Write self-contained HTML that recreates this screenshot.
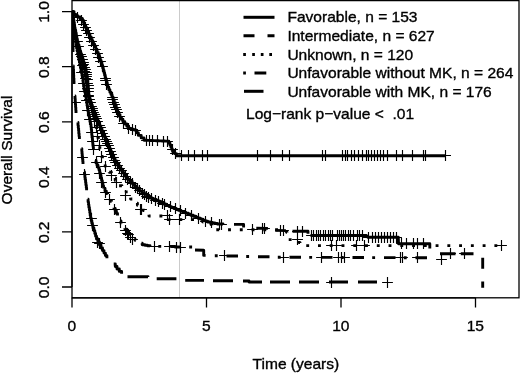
<!DOCTYPE html>
<html lang="en">
<head>
<meta charset="utf-8">
<title>Overall Survival</title>
<style>
html,body{margin:0;padding:0;background:#fff;}
body{width:520px;height:373px;overflow:hidden;}
svg{display:block;}
</style>
</head>
<body>
<svg width="520" height="373" viewBox="0 0 520 373">
<rect width="520" height="373" fill="#fff"/>
<line x1="179.5" y1="0.6" x2="179.5" y2="297.8" stroke="#cbcbcb" stroke-width="1"/>
<clipPath id="pc"><rect x="72.0" y="0.6" width="447.0" height="297.2"/></clipPath>
<g fill="none" stroke="#000" stroke-width="2.9" stroke-linejoin="round" clip-path="url(#pc)">
<path d="M72.0 11.6 L74.0 11.6 L74.0 14.5 L75.8 14.5 L75.8 15.8 L77.6 15.8 L77.6 17.0 L80.0 17.0 L80.0 18.8 L82.5 18.8 L82.5 20.5 L83.5 20.5 L83.5 22.8 L84.4 22.8 L84.4 25.2 L85.4 25.2 L85.4 27.5 L86.5 27.5 L86.5 29.9 L87.7 29.9 L87.7 32.2 L88.8 32.2 L88.8 34.6 L89.9 34.6 L89.9 37.0 L91.1 37.0 L91.1 39.5 L92.2 39.5 L92.2 41.9 L93.4 41.9 L93.4 44.3 L94.6 44.3 L94.6 46.8 L95.8 46.8 L95.8 49.6 L97.0 49.6 L97.0 52.4 L98.2 52.4 L98.2 55.2 L99.4 55.2 L99.4 58.0 L100.2 58.0 L100.2 60.5 L101.1 60.5 L101.1 63.0 L101.9 63.0 L101.9 65.5 L102.7 65.5 L102.7 68.0 L103.3 68.0 L103.3 70.4 L104.0 70.4 L104.0 72.8 L104.6 72.8 L104.6 75.3 L105.2 75.3 L105.2 77.7 L105.8 77.7 L105.8 80.1 L106.5 80.1 L106.5 82.5 L107.2 82.5 L107.2 84.9 L107.8 84.9 L107.8 87.3 L108.8 87.3 L108.8 89.7 L109.9 89.7 L109.9 92.2 L111.0 92.2 L111.0 94.6 L112.0 94.6 L112.0 97.0 L113.0 97.0 L113.0 99.8 L114.1 99.8 L114.1 102.6 L115.2 102.6 L115.2 105.4 L116.2 105.4 L116.2 108.2 L117.0 108.2 L117.0 110.4 L117.7 110.4 L117.7 112.5 L118.5 112.5 L118.5 114.7 L120.0 114.7 L120.0 117.1 L121.4 117.1 L121.4 119.4 L122.9 119.4 L122.9 121.8 L124.8 121.8 L124.8 124.0 L126.8 124.0 L126.8 126.3 L128.7 126.3 L128.7 128.5 L131.0 128.5 L131.0 129.2 L133.2 129.2 L133.2 129.8 L135.5 129.8 L135.5 130.5 L136.9 130.5 L136.9 132.9 L138.4 132.9 L138.4 135.4 L141.2 135.4 L141.2 137.9 L144.0 137.9 L144.0 140.3 L146.9 140.3 L146.9 140.4 L149.9 140.4 L149.9 140.5 L152.8 140.5 L152.8 140.6 L155.8 140.6 L155.8 140.8 L158.8 140.8 L158.8 140.9 L161.7 140.9 L161.7 141.0 L164.7 141.0 L164.7 141.1 L167.6 141.1 L167.6 141.2 L168.8 141.2 L168.8 143.2 L170.0 143.2 L170.0 145.2 L170.9 145.2 L170.9 147.3 L171.7 147.3 L171.7 149.4 L172.6 149.4 L172.6 151.5 L174.5 151.5 L174.5 153.6 L176.4 153.6 L176.4 155.7 L446.0 155.7 L446.0 155.7"/>
<path d="M72.0 11.6 L72.5 11.6 L72.5 14.4 L73.0 14.4 L73.0 17.2 L73.5 17.2 L73.5 20.0 L73.9 20.0 L73.9 22.5 L74.2 22.5 L74.2 25.0 L74.6 25.0 L74.6 27.5 L75.0 27.5 L75.0 30.0 L75.6 30.0 L75.6 33.0 L76.2 33.0 L76.2 36.0 L76.7 36.0 L76.7 39.0 L77.3 39.0 L77.3 42.0 L78.1 42.0 L78.1 45.0 L79.0 45.0 L79.0 48.0 L79.8 48.0 L79.8 51.0 L80.6 51.0 L80.6 53.7 L81.5 53.7 L81.5 56.3 L82.3 56.3 L82.3 59.0 L83.1 59.0 L83.1 61.5 L83.9 61.5 L83.9 64.0 L84.7 64.0 L84.7 66.5 L85.5 66.5 L85.5 69.0 L86.1 69.0 L86.1 72.0 L86.6 72.0 L86.6 75.0 L87.2 75.0 L87.2 78.0 L87.5 78.0 L87.5 80.5 L87.8 80.5 L87.8 83.0 L88.0 83.0 L88.0 85.5 L88.3 85.5 L88.3 88.0 L88.5 88.0 L88.5 91.0 L88.8 91.0 L88.8 94.0 L89.0 94.0 L89.0 97.0 L89.8 97.0 L89.8 99.8 L90.7 99.8 L90.7 102.5 L91.5 102.5 L91.5 105.2 L92.3 105.2 L92.3 108.0 L93.4 108.0 L93.4 111.0 L94.4 111.0 L94.4 114.0 L95.5 114.0 L95.5 117.0 L97.0 117.0 L97.0 120.0 L98.0 120.0 L98.0 122.3 L99.0 122.3 L99.0 124.7 L99.9 124.7 L99.9 127.0 L100.9 127.0 L100.9 129.3 L102.0 129.3 L102.0 131.7 L103.1 131.7 L103.1 134.2 L104.1 134.2 L104.1 136.6 L105.2 136.6 L105.2 139.0 L106.2 139.0 L106.2 141.4 L107.2 141.4 L107.2 143.8 L108.3 143.8 L108.3 146.2 L109.3 146.2 L109.3 148.6 L110.3 148.6 L110.3 151.0 L111.3 151.0 L111.3 153.4 L112.4 153.4 L112.4 155.9 L113.4 155.9 L113.4 158.3 L114.9 158.3 L114.9 160.7 L116.3 160.7 L116.3 163.1 L117.8 163.1 L117.8 165.5 L119.2 165.5 L119.2 167.9 L120.9 167.9 L120.9 170.3 L122.6 170.3 L122.6 172.8 L124.3 172.8 L124.3 175.2 L126.0 175.2 L126.0 177.6 L127.8 177.6 L127.8 179.4 L129.7 179.4 L129.7 181.2 L132.1 181.2 L132.1 183.6 L134.5 183.6 L134.5 186.1 L136.9 186.1 L136.9 188.5 L139.3 188.5 L139.3 190.9 L141.9 190.9 L141.9 192.7 L144.5 192.7 L144.5 194.4 L147.1 194.4 L147.1 196.2 L149.7 196.2 L149.7 198.0 L152.1 198.0 L152.1 198.9 L154.5 198.9 L154.5 199.9 L156.9 199.9 L156.9 200.9 L159.3 200.9 L159.3 201.8 L161.7 201.8 L161.7 203.0 L164.2 203.0 L164.2 204.2 L166.6 204.2 L166.6 205.4 L169.0 205.4 L169.0 206.6 L171.4 206.6 L171.4 207.6 L173.8 207.6 L173.8 208.5 L176.2 208.5 L176.2 209.4 L178.6 209.4 L178.6 210.4 L181.0 210.4 L181.0 211.4 L183.4 211.4 L183.4 212.4 L185.9 212.4 L185.9 213.3 L188.3 213.3 L188.3 214.3 L190.7 214.3 L190.7 215.3 L193.2 215.3 L193.2 216.2 L195.6 216.2 L195.6 217.2 L198.0 217.2 L198.0 218.2 L200.4 218.2 L200.4 219.1 L202.8 219.1 L202.8 220.1 L205.2 220.1 L205.2 221.1 L207.6 221.1 L207.6 222.0 L210.0 222.0 L210.0 222.5 L212.4 222.5 L212.4 223.0 L214.8 223.0 L214.8 223.5 L217.2 223.5 L217.2 224.0 L223.0 224.0 L223.0 224.2"/>
<path d="M234.0 224.4 L243.6 224.4 L243.6 227.5"/>
<path d="M256.3 228.2 L267.9 228.4"/>
<path d="M275.3 230.4 L285.9 230.6"/>
<path d="M292.5 231.2 L308.0 231.2 L308.0 233.7"/>
<path d="M310.5 235.5 L364.6 235.5 L366.5 235.5 L367.7 237.2 L398.3 237.2 L398.5 243.8 L429.8 243.8 L429.8 248.5"/>
<path d="M72.0 11.6 L72.4 11.6 L72.4 14.4 L72.9 14.4 L72.9 17.2 L73.3 17.2 L73.3 20.0 L73.6 20.0 L73.6 22.5 L73.9 22.5 L73.9 25.0 L74.3 25.0 L74.3 27.5 L74.6 27.5 L74.6 30.0 L75.0 30.0 L75.0 32.5 L75.4 32.5 L75.4 35.0 L75.9 35.0 L75.9 37.5 L76.3 37.5 L76.3 40.0 L76.9 40.0 L76.9 43.0 L77.5 43.0 L77.5 46.0 L78.2 46.0 L78.2 49.0 L78.8 49.0 L78.8 52.0 L79.5 52.0 L79.5 54.3 L80.3 54.3 L80.3 56.7 L81.0 56.7 L81.0 59.0 L81.8 59.0 L81.8 61.5 L82.5 61.5 L82.5 64.0 L83.2 64.0 L83.2 66.5 L84.0 66.5 L84.0 69.0 L84.6 69.0 L84.6 72.0 L85.1 72.0 L85.1 75.0 L85.7 75.0 L85.7 78.0 L86.0 78.0 L86.0 80.5 L86.3 80.5 L86.3 83.0 L86.7 83.0 L86.7 85.5 L87.0 85.5 L87.0 88.0 L87.3 88.0 L87.3 90.3 L87.7 90.3 L87.7 92.7 L88.0 92.7 L88.0 95.0 L88.7 95.0 L88.7 97.6 L89.4 97.6 L89.4 100.2 L90.1 100.2 L90.1 102.8 L90.8 102.8 L90.8 105.4 L91.5 105.4 L91.5 108.0 L92.2 108.0 L92.2 110.8 L92.9 110.8 L92.9 113.6 L93.6 113.6 L93.6 116.4 L94.3 116.4 L94.3 119.2 L95.0 119.2 L95.0 122.0"/>
<path d="M95.0 122.0 L95.5 122.0 L95.5 124.8 L96.0 124.8 L96.0 127.5 L96.5 127.5 L96.5 130.2 L97.0 130.2 L97.0 133.0 L97.5 133.0 L97.5 135.5 L98.0 135.5 L98.0 138.0 L98.5 138.0 L98.5 140.5 L99.0 140.5 L99.0 143.0 L99.4 143.0 L99.4 145.9 L99.8 145.9 L99.8 148.8 L100.3 148.8 L100.3 151.6 L100.7 151.6 L100.7 154.5 L101.5 154.5 L101.5 156.5 L102.4 156.5 L102.4 158.9 L103.3 158.9 L103.3 161.4 L104.3 161.4 L104.3 163.9 L105.2 163.9 L105.2 166.3 L107.2 166.3 L107.2 169.2 L109.2 169.2 L109.2 172.2 L111.3 172.2 L111.3 175.1 L113.3 175.1 L113.3 178.0 L115.2 178.0 L115.2 180.6 L117.1 180.6 L117.1 183.2 L119.0 183.2 L119.0 185.8 L121.9 185.8 L121.9 187.7 L124.8 187.7 L124.8 189.5 L126.2 189.5 L126.2 191.9 L127.7 191.9 L127.7 194.2 L129.2 194.2 L129.2 196.6 L130.6 196.6 L130.6 199.0 L132.9 199.0 L132.9 201.1 L135.1 201.1 L135.1 203.1 L137.4 203.1 L137.4 205.2 L140.3 205.2 L140.3 207.9 L143.2 207.9 L143.2 210.6 L146.1 210.6 L146.1 213.3 L149.0 213.3 L149.0 216.0 L168.0 216.0 L168.0 216.0 L168.3 216.0 L168.3 219.6 L196.0 219.6 L196.0 219.6 L198.3 219.6 L198.3 220.4 L200.7 220.4 L200.7 221.2 L203.0 221.2 L203.0 222.0 L205.7 222.0 L205.7 222.8 L208.3 222.8 L208.3 223.7 L211.0 223.7 L211.0 224.5 L212.0 224.5 L212.0 227.1 L213.0 227.1 L213.0 229.7 L286.0 229.7 L286.0 229.7 L286.5 229.7 L286.5 232.2 L287.0 232.2 L287.0 234.6 L287.5 234.6 L287.5 237.1 L288.0 237.1 L288.0 239.6 L298.0 239.6 L298.0 239.6 L299.0 239.6 L299.0 242.6 L300.0 242.6 L300.0 245.6 L502.0 245.6 L502.0 245.8" stroke-dasharray="2.9 8.86" stroke-dashoffset="6.20"/>
<path d="M72.0 11.6 L72.2 11.6 L72.2 14.2 L72.5 14.2 L72.5 16.8 L72.8 16.8 L72.8 19.4 L73.0 19.4 L73.0 22.0 L73.3 22.0 L73.3 24.5 L73.6 24.5 L73.6 27.0 L73.9 27.0 L73.9 29.5 L74.2 29.5 L74.2 32.0 L74.5 32.0 L74.5 34.5 L74.9 34.5 L74.9 37.1 L75.2 37.1 L75.2 39.6 L75.7 39.6 L75.7 42.5 L76.2 42.5 L76.2 45.4 L76.6 45.4 L76.6 48.2 L77.1 48.2 L77.1 51.1 L77.6 51.1 L77.6 54.0 L78.2 54.0 L78.2 56.9 L78.8 56.9 L78.8 59.7 L79.4 59.7 L79.4 62.6 L80.0 62.6 L80.0 65.4 L80.5 65.4 L80.5 67.9 L81.0 67.9 L81.0 70.4 L81.5 70.4 L81.5 73.0 L82.0 73.0 L82.0 75.5 L82.5 75.5 L82.5 78.0 L82.9 78.0 L82.9 80.9 L83.2 80.9 L83.2 83.8 L83.6 83.8 L83.6 86.6 L84.0 86.6 L84.0 89.5 L84.8 89.5 L84.8 92.2 L85.5 92.2 L85.5 95.0 L85.9 95.0 L85.9 97.7 L86.3 97.7 L86.3 100.3 L86.7 100.3 L86.7 103.0 L87.1 103.0 L87.1 105.7 L87.5 105.7 L87.5 108.3 L87.9 108.3 L87.9 111.0 L88.4 111.0 L88.4 113.7 L88.9 113.7 L88.9 116.3 L89.5 116.3 L89.5 119.0 L90.0 119.0 L90.0 121.7 L90.5 121.7 L90.5 124.3 L91.0 124.3 L91.0 127.0 L91.3 127.0 L91.3 129.7 L91.6 129.7 L91.6 132.3 L91.8 132.3 L91.8 135.0 L92.1 135.0 L92.1 137.7 L92.4 137.7 L92.4 140.3 L92.7 140.3 L92.7 143.0 L92.9 143.0 L92.9 145.2 L93.2 145.2 L93.2 147.3 L93.4 147.3 L93.4 149.5"/>
<path d="M95.0 160.5 L96.0 160.5 L96.0 162.9 L97.0 162.9 L97.0 165.2 L98.0 165.2 L98.0 167.6 L99.0 167.6 L99.0 170.0 L99.7 170.0 L99.7 172.7 L100.3 172.7 L100.3 175.3 L101.0 175.3 L101.0 178.0 L101.6 178.0 L101.6 180.6 L102.3 180.6 L102.3 183.3 L102.9 183.3 L102.9 185.9 L103.6 185.9 L103.6 188.6"/>
<path d="M103.6 188.6 L105.0 188.6 L105.0 191.1 L106.3 191.1 L106.3 193.6 L107.7 193.6 L107.7 196.2 L109.0 196.2 L109.0 198.7 L110.4 198.7 L110.4 201.2 L111.6 201.2 L111.6 203.6 L112.8 203.6 L112.8 206.1 L114.0 206.1 L114.0 208.5 L115.2 208.5 L115.2 210.9 L116.4 210.9 L116.4 213.4 L117.5 213.4 L117.5 215.9 L118.7 215.9 L118.7 218.4 L119.8 218.4 L119.8 220.9 L121.0 220.9 L121.0 223.4 L122.9 223.4 L122.9 226.3 L124.9 226.3 L124.9 229.1 L126.8 229.1 L126.8 232.0 L128.7 232.0 L128.7 234.3 L130.7 234.3 L130.7 236.6 L132.6 236.6 L132.6 238.9 L135.0 238.9 L135.0 240.3 L137.4 240.3 L137.4 241.8 L139.8 241.8 L139.8 243.2 L142.2 243.2 L142.2 244.7 L144.8 244.7 L144.8 245.3 L147.4 245.3 L147.4 245.8 L150.0 245.8 L150.0 246.4 L175.0 246.4 L175.0 247.0 L192.2 247.0 L192.2 247.5" stroke-dasharray="2.9 8.6 11.4 8.6" stroke-dashoffset="13.50"/>
<path d="M195 250 L203.7 250.3 L203.7 255.4 L205.6 255.4"/>
<path d="M226.5 256.0H238.0M214.8 255.7h2.9M258.0 256.7H269.5M246.2 256.5h2.9M289.5 257.3H301.0M277.8 257.3h2.9M321.0 257.4H332.5M309.2 257.4h2.9M352.5 257.5H364.0M340.8 257.5h2.9M384.0 257.6H395.5M372.2 257.6h2.9M415.5 257.8H427.0M403.8 257.7h2.9"/>
<path d="M72.0 11.6 L72.6 11.6 L72.6 30.0 L73.0 30.0 L73.0 52.0" stroke-linecap="butt"/>
<path d="M73.2 66.0 L73.3 66.0 L73.3 69.0 L73.5 69.0 L73.5 72.0 L73.6 72.0 L73.6 75.0 L73.7 75.0 L73.7 78.0 L73.9 78.0 L73.9 81.0 L74.0 81.0 L74.0 84.0" stroke-linecap="butt"/>
<path d="M74.8 96.0 L75.0 96.0 L75.0 98.8 L75.2 98.8 L75.2 101.7 L75.4 101.7 L75.4 104.5 L75.6 104.5 L75.6 107.3 L75.8 107.3 L75.8 110.2 L76.0 110.2 L76.0 113.0" stroke-linecap="butt"/>
<path d="M77.7 122.5 L78.0 122.5 L78.0 125.2 L78.3 125.2 L78.3 128.0 L78.6 128.0 L78.6 130.8 L78.8 130.8 L78.8 133.5 L79.1 133.5 L79.1 136.2 L79.4 136.2 L79.4 139.0" stroke-linecap="butt"/>
<path d="M81.5 148.6 L81.8 148.6 L81.8 151.2 L82.0 151.2 L82.0 153.7 L82.2 153.7 L82.2 156.3 L82.5 156.3 L82.5 158.9 L82.8 158.9 L82.8 161.4 L83.0 161.4 L83.0 164.0" stroke-linecap="butt"/>
<path d="M84.2 172.0 L84.5 172.0 L84.5 174.6 L84.9 174.6 L84.9 177.2 L85.2 177.2 L85.2 179.8 L85.6 179.8 L85.6 182.5 L85.9 182.5 L85.9 185.1 L86.3 185.1 L86.3 187.7 L86.6 187.7 L86.6 190.3" stroke-linecap="butt"/>
<path d="M87.7 199.2 L88.1 199.2 L88.1 201.9 L88.5 201.9 L88.5 204.7 L88.9 204.7 L88.9 207.4 L89.4 207.4 L89.4 210.1 L89.8 210.1 L89.8 212.8 L90.2 212.8 L90.2 215.6 L90.6 215.6 L90.6 218.3 L91.2 218.3 L91.2 220.7 L91.8 220.7 L91.8 223.2 L92.4 223.2 L92.4 225.6 L93.0 225.6 L93.0 228.0 L93.9 228.0 L93.9 230.8 L94.8 230.8 L94.8 233.5 L95.6 233.5 L95.6 236.2 L96.5 236.2 L96.5 239.0 L98.0 239.0 L98.0 242.0 L99.5 242.0 L99.5 245.0 L101.0 245.0 L101.0 248.0 L102.5 248.0 L102.5 250.6 L104.0 250.6 L104.0 253.1 L105.4 253.1 L105.4 255.6 L106.9 255.6 L106.9 258.2" stroke-linecap="butt"/>
<path d="M113.7 264.0 L115.3 264.0 L115.3 266.5 L117.0 266.5 L117.0 269.0 L119.3 269.0 L119.3 271.4 L121.6 271.4 L121.6 273.8" stroke-linecap="butt"/>
<path d="M127.5 276.8 L148.0 276.8 L148.0 276.9" stroke-linecap="butt"/>
<path d="M156.7 278.8 L176.4 278.8 L176.4 278.8" stroke-linecap="butt"/>
<path d="M185.2 280.4 L204.0 280.4 L204.0 280.4" stroke-linecap="butt"/>
<path d="M213.0 280.7 L233.0 280.7 L233.0 280.7" stroke-linecap="butt"/>
<path d="M243.0 281.0 L249.0 281.0 L249.0 281.0 L249.0 281.0 L249.0 282.0 L262.0 282.0 L262.0 282.0" stroke-linecap="butt"/>
<path d="M270.0 282.0 L290.0 282.0 L290.0 282.0" stroke-linecap="butt"/>
<path d="M299.0 282.0 L319.0 282.0 L319.0 282.0" stroke-linecap="butt"/>
<path d="M329.0 282.0 L348.0 282.0 L348.0 282.0" stroke-linecap="butt"/>
<path d="M358.0 282.0 L377.0 282.0 L377.0 282.0" stroke-linecap="butt"/>
<path d="M440 253.8 H455.5 M460.8 253.8 H473.5"/>
<path d="M482.7 257.8 V268.8 M482.7 281.4 V287.8"/>
</g>
<path d="M72.1 17.5h10.8M77.5 12.1v10.8M76.1 20.5h10.8M81.5 15.1v10.8M78.1 24.5h10.8M83.5 19.1v10.8M80.1 27.5h10.8M85.5 22.1v10.8M81.1 30.5h10.8M86.5 25.1v10.8M83.1 33.5h10.8M88.5 28.1v10.8M84.1 37.5h10.8M89.5 32.1v10.8M86.1 41.5h10.8M91.5 36.1v10.8M88.1 45.5h10.8M93.5 40.1v10.8M90.1 49.5h10.8M95.5 44.1v10.8M92.1 53.5h10.8M97.5 48.1v10.8M93.1 57.5h10.8M98.5 52.1v10.8M95.1 61.5h10.8M100.5 56.1v10.8M97.1 66.5h10.8M102.5 61.1v10.8M100.1 78.5h10.8M105.5 73.1v10.8M100.1 80.5h10.8M105.5 75.1v10.8M101.1 84.5h10.8M106.5 79.1v10.8M107.1 97.5h10.8M112.5 92.1v10.8M107.1 99.5h10.8M112.5 94.1v10.8M108.1 102.5h10.8M113.5 97.1v10.8M109.1 104.5h10.8M114.5 99.1v10.8M110.1 107.5h10.8M115.5 102.1v10.8M111.1 109.5h10.8M116.5 104.1v10.8M112.1 112.5h10.8M117.5 107.1v10.8M114.1 116.5h10.8M119.5 111.1v10.8M118.1 123.5h10.8M123.5 118.1v10.8M123.1 128.5h10.8M128.5 123.1v10.8M127.1 129.5h10.8M132.5 124.1v10.8M130.1 130.5h10.8M135.5 125.1v10.8M141.1 140.5h10.8M146.5 135.1v10.8M144.1 140.5h10.8M149.5 135.1v10.8M147.1 140.5h10.8M152.5 135.1v10.8M152.1 140.5h10.8M157.5 135.1v10.8M158.1 141.5h10.8M163.5 136.1v10.8M162.1 141.5h10.8M167.5 136.1v10.8M167.1 149.5h10.8M172.5 144.1v10.8M170.1 153.5h10.8M175.5 148.1v10.8M176.0 155.5h11.0M181.5 150.0v11.0M183.0 155.5h11.0M188.5 150.0v11.0M189.0 155.5h11.0M194.5 150.0v11.0M197.0 155.5h11.0M202.5 150.0v11.0M202.0 155.5h11.0M207.5 150.0v11.0M252.0 155.5h11.0M257.5 150.0v11.0M265.0 155.5h11.0M270.5 150.0v11.0M277.0 155.5h11.0M282.5 150.0v11.0M284.0 155.5h11.0M289.5 150.0v11.0M317.0 155.5h11.0M322.5 150.0v11.0M320.0 155.5h11.0M325.5 150.0v11.0M337.0 155.5h11.0M342.5 150.0v11.0M340.0 155.5h11.0M345.5 150.0v11.0M342.0 155.5h11.0M347.5 150.0v11.0M346.0 155.5h11.0M351.5 150.0v11.0M349.0 155.5h11.0M354.5 150.0v11.0M353.0 155.5h11.0M358.5 150.0v11.0M357.0 155.5h11.0M362.5 150.0v11.0M361.0 155.5h11.0M366.5 150.0v11.0M363.0 155.5h11.0M368.5 150.0v11.0M366.0 155.5h11.0M371.5 150.0v11.0M369.0 155.5h11.0M374.5 150.0v11.0M372.0 155.5h11.0M377.5 150.0v11.0M375.0 155.5h11.0M380.5 150.0v11.0M378.0 155.5h11.0M383.5 150.0v11.0M382.0 155.5h11.0M387.5 150.0v11.0M391.0 155.5h11.0M396.5 150.0v11.0M397.0 155.5h11.0M402.5 150.0v11.0M407.0 155.5h11.0M412.5 150.0v11.0M418.0 155.5h11.0M423.5 150.0v11.0M420.0 155.5h11.0M425.5 150.0v11.0M440.0 155.5h11.0M445.5 150.0v11.0M71.1 35.5h10.8M76.5 30.1v10.8M72.1 41.5h10.8M77.5 36.1v10.8M73.1 46.5h10.8M78.5 41.1v10.8M75.1 54.5h10.8M80.5 49.1v10.8M76.1 56.5h10.8M81.5 51.1v10.8M77.1 59.5h10.8M82.5 54.1v10.8M78.1 62.5h10.8M83.5 57.1v10.8M78.1 64.5h10.8M83.5 59.1v10.8M79.1 67.5h10.8M84.5 62.1v10.8M80.1 69.5h10.8M85.5 64.1v10.8M81.1 72.5h10.8M86.5 67.1v10.8M81.1 74.5h10.8M86.5 69.1v10.8M81.1 76.5h10.8M86.5 71.1v10.8M82.1 79.5h10.8M87.5 74.1v10.8M82.1 83.5h10.8M87.5 78.1v10.8M83.1 85.5h10.8M88.5 80.1v10.8M83.1 88.5h10.8M88.5 83.1v10.8M83.1 91.5h10.8M88.5 86.1v10.8M83.1 96.5h10.8M88.5 91.1v10.8M84.1 99.5h10.8M89.5 94.1v10.8M85.1 102.5h10.8M90.5 97.1v10.8M86.1 106.5h10.8M91.5 101.1v10.8M87.1 108.5h10.8M92.5 103.1v10.8M88.1 112.5h10.8M93.5 107.1v10.8M89.1 114.5h10.8M94.5 109.1v10.8M90.1 116.5h10.8M95.5 111.1v10.8M91.1 118.5h10.8M96.5 113.1v10.8M92.1 121.5h10.8M97.5 116.1v10.8M94.1 125.5h10.8M99.5 120.1v10.8M95.1 127.5h10.8M100.5 122.1v10.8M96.1 130.5h10.8M101.5 125.1v10.8M97.1 133.5h10.8M102.5 128.1v10.8M99.1 136.5h10.8M104.5 131.1v10.8M100.1 139.5h10.8M105.5 134.1v10.8M101.1 141.5h10.8M106.5 136.1v10.8M102.1 143.5h10.8M107.5 138.1v10.8M103.1 145.5h10.8M108.5 140.1v10.8M104.1 148.5h10.8M109.5 143.1v10.8M105.1 151.5h10.8M110.5 146.1v10.8M106.1 154.5h10.8M111.5 149.1v10.8M108.1 157.5h10.8M113.5 152.1v10.8M109.1 160.5h10.8M114.5 155.1v10.8M110.1 162.5h10.8M115.5 157.1v10.8M112.1 165.5h10.8M117.5 160.1v10.8M114.1 168.5h10.8M119.5 163.1v10.8M116.1 170.5h10.8M121.5 165.1v10.8M118.1 173.5h10.8M123.5 168.1v10.8M120.1 176.5h10.8M125.5 171.1v10.8M122.1 179.5h10.8M127.5 174.1v10.8M125.1 182.5h10.8M130.5 177.1v10.8M127.1 183.5h10.8M132.5 178.1v10.8M130.1 187.5h10.8M135.5 182.1v10.8M132.1 188.5h10.8M137.5 183.1v10.8M134.1 190.5h10.8M139.5 185.1v10.8M137.1 193.5h10.8M142.5 188.1v10.8M139.1 194.5h10.8M144.5 189.1v10.8M141.1 196.5h10.8M146.5 191.1v10.8M143.1 197.5h10.8M148.5 192.1v10.8M146.1 198.5h10.8M151.5 193.1v10.8M150.1 200.5h10.8M155.5 195.1v10.8M153.1 201.5h10.8M158.5 196.1v10.8M157.1 203.5h10.8M162.5 198.1v10.8M159.1 204.5h10.8M164.5 199.1v10.8M165.1 206.5h10.8M170.5 201.1v10.8M170.1 208.5h10.8M175.5 203.1v10.8M175.1 210.5h10.8M180.5 205.1v10.8M180.1 213.5h10.8M185.5 208.1v10.8M186.1 215.5h10.8M191.5 210.1v10.8M193.1 218.5h10.8M198.5 213.1v10.8M200.1 221.5h10.8M205.5 216.1v10.8M206.1 222.5h10.8M211.5 217.1v10.8M214.1 224.5h10.8M219.5 219.1v10.8M216.1 224.5h10.8M221.5 219.1v10.8M247.1 229.5h10.8M252.5 224.1v10.8M257.1 228.5h10.8M262.5 223.1v10.8M259.1 228.5h10.8M264.5 223.1v10.8M275.1 230.5h10.8M280.5 225.1v10.8M278.1 230.5h10.8M283.5 225.1v10.8M292.1 231.5h10.8M297.5 226.1v10.8M297.1 231.5h10.8M302.5 226.1v10.8M306.1 235.5h10.8M311.5 230.1v10.8M308.1 235.5h10.8M313.5 230.1v10.8M311.1 235.5h10.8M316.5 230.1v10.8M313.1 235.5h10.8M318.5 230.1v10.8M315.1 235.5h10.8M320.5 230.1v10.8M318.1 235.5h10.8M323.5 230.1v10.8M320.1 235.5h10.8M325.5 230.1v10.8M323.1 235.5h10.8M328.5 230.1v10.8M325.1 235.5h10.8M330.5 230.1v10.8M327.1 235.5h10.8M332.5 230.1v10.8M332.1 235.5h10.8M337.5 230.1v10.8M334.1 235.5h10.8M339.5 230.1v10.8M336.1 235.5h10.8M341.5 230.1v10.8M338.1 235.5h10.8M343.5 230.1v10.8M340.1 235.5h10.8M345.5 230.1v10.8M343.1 235.5h10.8M348.5 230.1v10.8M345.1 235.5h10.8M350.5 230.1v10.8M348.1 235.5h10.8M353.5 230.1v10.8M352.1 235.5h10.8M357.5 230.1v10.8M354.1 235.5h10.8M359.5 230.1v10.8M357.1 235.5h10.8M362.5 230.1v10.8M363.1 237.5h10.8M368.5 232.1v10.8M367.1 237.5h10.8M372.5 232.1v10.8M370.1 237.5h10.8M375.5 232.1v10.8M373.1 237.5h10.8M378.5 232.1v10.8M376.1 237.5h10.8M381.5 232.1v10.8M379.1 237.5h10.8M384.5 232.1v10.8M382.1 237.5h10.8M387.5 232.1v10.8M385.1 237.5h10.8M390.5 232.1v10.8M388.1 237.5h10.8M393.5 232.1v10.8M391.1 237.5h10.8M396.5 232.1v10.8M396.1 243.5h10.8M401.5 238.1v10.8M401.1 243.5h10.8M406.5 238.1v10.8M408.1 243.5h10.8M413.5 238.1v10.8M412.1 243.5h10.8M417.5 238.1v10.8M418.1 243.5h10.8M423.5 238.1v10.8M77.1 65.5h10.8M82.5 60.1v10.8M79.1 71.5h10.8M84.5 66.1v10.8M80.1 78.5h10.8M85.5 73.1v10.8M82.1 88.5h10.8M87.5 83.1v10.8M83.1 95.5h10.8M88.5 90.1v10.8M85.1 102.5h10.8M90.5 97.1v10.8M87.1 110.5h10.8M92.5 105.1v10.8M89.1 121.5h10.8M94.5 116.1v10.8M91.1 127.5h10.8M96.5 122.1v10.8M92.1 136.5h10.8M97.5 131.1v10.8M94.1 145.5h10.8M99.5 140.1v10.8M96.1 156.5h10.8M101.5 151.1v10.8M100.1 166.5h10.8M105.5 161.1v10.8M106.1 175.5h10.8M111.5 170.1v10.8M111.1 182.5h10.8M116.5 177.1v10.8M120.1 195.5h10.8M125.5 190.1v10.8M135.1 209.5h10.8M140.5 204.1v10.8M136.1 209.5h10.8M141.5 204.1v10.8M162.1 215.5h10.8M167.5 210.1v10.8M164.1 219.5h10.8M169.5 214.1v10.8M174.1 219.5h10.8M179.5 214.1v10.8M292.1 239.5h10.8M297.5 234.1v10.8M326.1 245.5h10.8M331.5 240.1v10.8M331.1 245.5h10.8M336.5 240.1v10.8M351.1 245.5h10.8M356.5 240.1v10.8M359.1 245.5h10.8M364.5 240.1v10.8M496.1 245.5h10.8M501.5 240.1v10.8M76.1 72.5h10.8M81.5 67.1v10.8M78.1 83.5h10.8M83.5 78.1v10.8M79.1 91.5h10.8M84.5 86.1v10.8M81.1 100.5h10.8M86.5 95.1v10.8M82.1 110.5h10.8M87.5 105.1v10.8M84.1 119.5h10.8M89.5 114.1v10.8M86.1 132.5h10.8M91.5 127.1v10.8M87.1 141.5h10.8M92.5 136.1v10.8M88.1 149.5h10.8M93.5 144.1v10.8M91.1 162.5h10.8M96.5 157.1v10.8M94.1 173.5h10.8M99.5 168.1v10.8M96.1 182.5h10.8M101.5 177.1v10.8M100.1 192.5h10.8M105.5 187.1v10.8M104.1 199.5h10.8M109.5 194.1v10.8M109.1 209.5h10.8M114.5 204.1v10.8M115.1 222.5h10.8M120.5 217.1v10.8M122.1 233.5h10.8M127.5 228.1v10.8M149.1 246.5h10.8M154.5 241.1v10.8M164.1 246.5h10.8M169.5 241.1v10.8M120.1 230.5h10.8M125.5 225.1v10.8M123.1 234.5h10.8M128.5 229.1v10.8M125.1 237.5h10.8M130.5 232.1v10.8M127.1 239.5h10.8M132.5 234.1v10.8M171.1 247.5h10.8M176.5 242.1v10.8M175.1 247.5h10.8M180.5 242.1v10.8M219.1 255.5h10.8M224.5 250.1v10.8M278.1 257.5h10.8M283.5 252.1v10.8M316.1 257.5h10.8M321.5 252.1v10.8M333.1 257.5h10.8M338.5 252.1v10.8M336.1 257.5h10.8M341.5 252.1v10.8M339.1 257.5h10.8M344.5 252.1v10.8M395.1 257.5h10.8M400.5 252.1v10.8M397.1 257.5h10.8M402.5 252.1v10.8M412.1 257.5h10.8M417.5 252.1v10.8M436.1 259.5h10.8M441.5 254.1v10.8M445.1 253.5h10.8M450.5 248.1v10.8M459.1 253.5h10.8M464.5 248.1v10.8M77.1 157.5h10.8M82.5 152.1v10.8M79.1 174.5h10.8M84.5 169.1v10.8M86.1 218.5h10.8M91.5 213.1v10.8M87.1 225.5h10.8M92.5 220.1v10.8M92.1 242.5h10.8M97.5 237.1v10.8M94.1 243.5h10.8M99.5 238.1v10.8M326.1 282.5h10.8M331.5 277.1v10.8M382.1 282.5h10.8M387.5 277.1v10.8M70.1 102.5h10.8M75.5 97.1v10.8" fill="none" stroke="#000" stroke-width="1.15" clip-path="url(#pc)"/>
<g fill="none" stroke="#000" stroke-width="1.3">
<rect x="72.0" y="0.6" width="447.0" height="297.2"/>
<path d="M72.0 287.0h-10M72.0 231.9h-10M72.0 176.8h-10M72.0 121.8h-10M72.0 66.7h-10M72.0 11.6h-10M72.0 287.0V11.6M72.0 297.8v9.8M206.5 297.8v9.8M341.0 297.8v9.8M475.5 297.8v9.8M72.0 297.8H475.5"/>
</g>
<g font-family="'Liberation Sans', Arial, Helvetica, sans-serif" font-size="15.55" fill="#000" stroke="#000" stroke-width="0.35">
<text transform="translate(49.3 287.4) rotate(-90)" text-anchor="middle">0.0</text>
<text transform="translate(49.3 232.3) rotate(-90)" text-anchor="middle">0.2</text>
<text transform="translate(49.3 177.2) rotate(-90)" text-anchor="middle">0.4</text>
<text transform="translate(49.3 122.2) rotate(-90)" text-anchor="middle">0.6</text>
<text transform="translate(49.3 67.1) rotate(-90)" text-anchor="middle">0.8</text>
<text transform="translate(49.3 12.0) rotate(-90)" text-anchor="middle">1.0</text>
<text x="71.8" y="330.9" text-anchor="middle">0</text>
<text x="206.3" y="330.9" text-anchor="middle">5</text>
<text x="340.8" y="330.9" text-anchor="middle">10</text>
<text x="475.3" y="330.9" text-anchor="middle">15</text>
<text x="295.9" y="368.7" text-anchor="middle">Time (years)</text>
<text transform="translate(12.2 150) rotate(-90)" text-anchor="middle">Overall Survival</text>
<text x="287.4" y="22.1">Favorable, n = 153</text>
<text x="287.4" y="40.8">Intermediate, n = 627</text>
<text x="287.4" y="59.5">Unknown, n = 120</text>
<text x="287.4" y="78.2">Unfavorable without MK, n = 264</text>
<text x="287.4" y="96.9">Unfavorable with MK, n = 176</text>
<text x="246" y="118.6">Log−rank p−value &lt;  .01</text>
</g>
<g fill="none" stroke="#000" stroke-width="3">
<path d="M243.5 17.3H274.5"/>
<path d="M243.5 35.8H254.5M267.5 35.8H274.5"/>
<path d="M243.2 54.4h2.7M252.2 54.4h2.7M260.8 54.4h2.7M269.3 54.4h2.7"/>
<path d="M243.2 73h2.7M254.5 73H266.3"/>
<path d="M244 91.3H263.5"/>
</g>
</svg>
</body>
</html>
